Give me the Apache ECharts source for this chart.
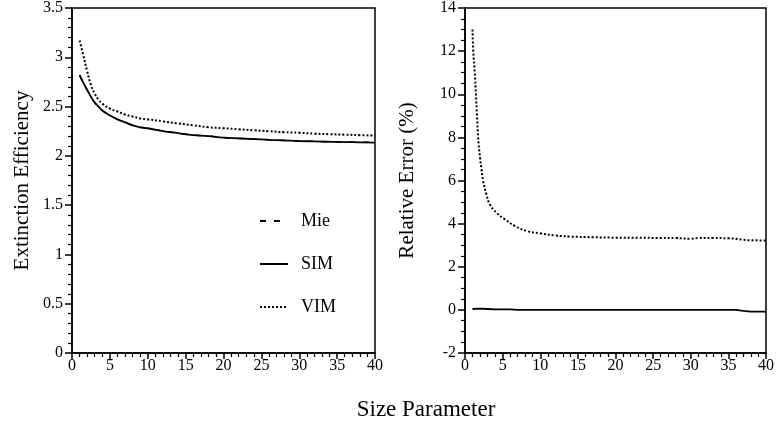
<!DOCTYPE html>
<html>
<head>
<meta charset="utf-8">
<script src="https://cdn.jsdelivr.net/npm/echarts@6/dist/echarts.min.js"></script>
<style>html,body{margin:0;padding:0;background:#fff}#c{width:777px;height:431px}</style>
</head>
<body>
<div id="c"></div>
<script>
// Left panel: extinction efficiency vs size parameter
const sizeX = [1,1.5,2,2.5,3,3.5,4,5,6,7,8,9,10,12,14,16,18,20,22,24,26,28,30,32,34,36,38,40];
const mieQ  = [2.82,2.74,2.67,2.60,2.54,2.50,2.46,2.41,2.37,2.34,2.31,2.29,2.28,2.25,2.23,2.21,2.20,2.185,2.177,2.17,2.163,2.157,2.15,2.147,2.143,2.14,2.138,2.137];
const simQ  = [2.82,2.74,2.67,2.60,2.54,2.50,2.46,2.41,2.37,2.34,2.31,2.29,2.28,2.25,2.23,2.21,2.20,2.185,2.177,2.17,2.163,2.157,2.15,2.147,2.143,2.14,2.137,2.135];
const vimQ  = [3.17,3.02,2.86,2.72,2.63,2.57,2.53,2.48,2.45,2.42,2.40,2.38,2.37,2.35,2.33,2.31,2.29,2.28,2.27,2.26,2.25,2.24,2.235,2.225,2.22,2.215,2.21,2.205];
// Right panel: relative error (%)
const vimErrX = [1,1.1,1.3,1.45,1.6,1.75,2,2.2,2.4,2.85,3.3,4.2,5.3,6.6,8.3,10,12,14,17,20,23,26,28,30,31,33,35,36,37,38,40];
const vimErr  = [13.0,12.0,11.0,10.0,9.0,8.0,7.05,6.5,6.0,5.35,4.9,4.5,4.2,3.9,3.65,3.55,3.45,3.4,3.37,3.35,3.35,3.33,3.33,3.3,3.33,3.33,3.32,3.3,3.25,3.23,3.22];
const simErrX = [1,2,3,4,5,6,7,10,20,30,36,37,38,40];
const simErr  = [0.04,0.06,0.04,0.02,0.02,0.02,0.0,0,0,0,0,-0.05,-0.08,-0.08];
const legendNames = ['Mie','SIM','VIM'];

const pairs = (xs, ys) => xs.map((x, i) => [x, ys[i]]);
const FONT = "'Liberation Serif','Times New Roman',serif";
const axisCommon = {
  axisLine: {show: true, onZero: false, lineStyle: {color: '#000', width: 1.5}},
  axisTick: {show: true, inside: false, length: 7, lineStyle: {color: '#000', width: 1.5}},
  minorTick: {show: true, length: 4, lineStyle: {color: '#000', width: 1.2}},
  splitLine: {show: false},
  axisLabel: {color: '#000', fontFamily: FONT, fontSize: 16}
};
const xAx = (gi) => Object.assign({}, axisCommon, {
  type: 'value', gridIndex: gi, min: 0, max: 40, interval: 5,
  minorTick: Object.assign({}, axisCommon.minorTick, {splitNumber: 5}),
  axisTick: Object.assign({}, axisCommon.axisTick, {length: 6}),
  axisLabel: Object.assign({}, axisCommon.axisLabel, {margin: 5})
});
const option = {
  animation: false,
  backgroundColor: '#fff',
  grid: [
    {left: 72, right: 402, top: 6, bottom: 78, show: true, borderColor: '#000', borderWidth: 1.5, backgroundColor: 'transparent'},
    {left: 465, right: 8, top: 6, bottom: 78, show: true, borderColor: '#000', borderWidth: 1.5, backgroundColor: 'transparent'}
  ],
  xAxis: [xAx(0), xAx(1)],
  yAxis: [
    Object.assign({}, axisCommon, {
      type: 'value', gridIndex: 0, min: 0, max: 3.5, interval: 0.5,
      minorTick: Object.assign({}, axisCommon.minorTick, {splitNumber: 5}),
      axisLabel: Object.assign({}, axisCommon.axisLabel, {margin: 9}),
      name: 'Extinction Efficiency', nameLocation: 'middle', nameGap: 39, nameRotate: 90,
      nameTextStyle: {color: '#000', fontFamily: FONT, fontSize: 21}
    }),
    Object.assign({}, axisCommon, {
      type: 'value', gridIndex: 1, min: -2, max: 14, interval: 2,
      minorTick: Object.assign({}, axisCommon.minorTick, {splitNumber: 4}),
      axisLabel: Object.assign({}, axisCommon.axisLabel, {margin: 9}),
      name: 'Relative Error (%)', nameLocation: 'middle', nameGap: 47, nameRotate: 90,
      nameTextStyle: {color: '#000', fontFamily: FONT, fontSize: 21}
    })
  ],
  legend: {
    data: legendNames, orient: 'vertical', left: 259, top: 212, padding: 0,
    itemWidth: 28, itemHeight: 14, itemGap: 25,
    itemStyle: {opacity: 0},
    textStyle: {color: '#000', fontFamily: FONT, fontSize: 18, padding: [0, 0, 0, 8]}
  },
  graphic: [{
    type: 'text', x: 426, y: 410,
    style: {text: 'Size Parameter', fill: '#000', font: "23px 'Liberation Serif','Times New Roman',serif", align: 'center', verticalAlign: 'middle'}
  }],
  series: [
    {name: 'Mie', type: 'line', xAxisIndex: 0, yAxisIndex: 0, data: pairs(sizeX, mieQ), symbol: 'none', smooth: false,
     lineStyle: {color: '#000', width: 1.5, type: [6, 8]}, itemStyle: {color: '#000'}},
    {name: 'SIM', type: 'line', xAxisIndex: 0, yAxisIndex: 0, data: pairs(sizeX, simQ), symbol: 'none', smooth: true,
     lineStyle: {color: '#000', width: 1.8, type: 'solid'}, itemStyle: {color: '#000'}},
    {name: 'VIM', type: 'line', xAxisIndex: 0, yAxisIndex: 0, data: pairs(sizeX, vimQ), symbol: 'none', smooth: true,
     lineStyle: {color: '#000', width: 2, type: [2, 2]}, itemStyle: {color: '#000'}},
    {name: 'SIM error', type: 'line', xAxisIndex: 1, yAxisIndex: 1, data: pairs(simErrX, simErr), symbol: 'none',
     lineStyle: {color: '#000', width: 1.8, type: 'solid'}},
    {name: 'VIM error', type: 'line', xAxisIndex: 1, yAxisIndex: 1, data: pairs(vimErrX, vimErr), symbol: 'none', smooth: true,
     lineStyle: {color: '#000', width: 2, type: [2, 2]}}
  ]
};
const chart = echarts.init(document.getElementById('c'), null, {renderer: 'canvas'});
chart.setOption(option);
</script>
</body>
</html>
